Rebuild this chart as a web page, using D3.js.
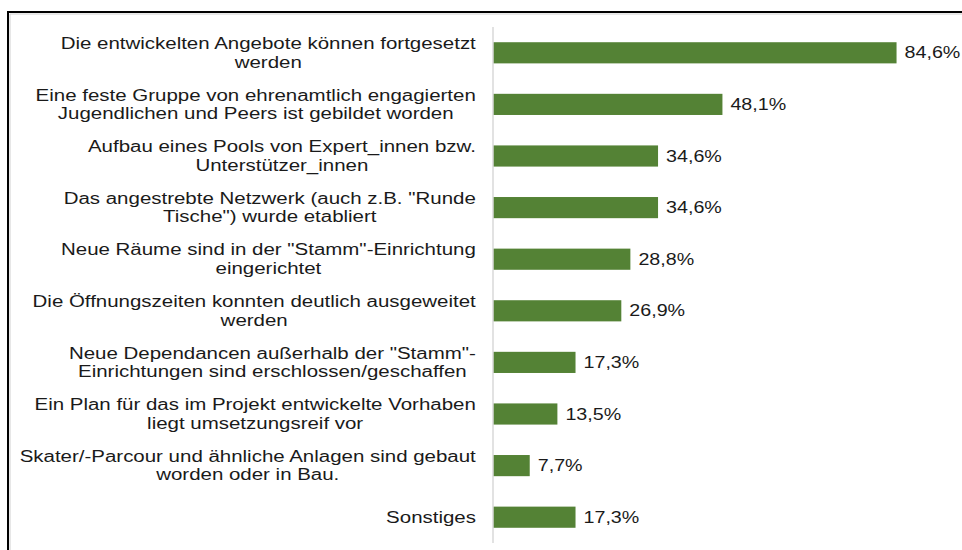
<!DOCTYPE html>
<html>
<head>
    <meta charset="utf-8">
    <title>Ergebnisse</title>
    <style>
        body { margin: 0; background: #fff; }
        svg { font-family: 'Liberation Sans', Arial, sans-serif; }
        .bar { fill: #548235; }
        .cat { fill: #1a1a1a; font-size: 16px; }
        .val { fill: #1a1a1a; font-size: 16px; }
    </style>
</head>
<body>
    <div id="chart"></div>
    <script src="https://d3js.org/d3.v7.min.js"></script>
    <script>
        const categories = [
            "Die entwickelten Angebote können fortgesetzt\nwerden",
            "Eine feste Gruppe von ehrenamtlich engagierten\nJugendlichen und Peers ist gebildet worden",
            "Aufbau eines Pools von Expert_innen bzw.\nUnterstützer_innen",
            "Das angestrebte Netzwerk (auch z.B. \"Runde\nTische\") wurde etabliert",
            "Neue Räume sind in der \"Stamm\"-Einrichtung\neingerichtet",
            "Die Öffnungszeiten konnten deutlich ausgeweitet\nwerden",
            "Neue Dependancen außerhalb der \"Stamm\"-\nEinrichtungen sind erschlossen/geschaffen",
            "Ein Plan für das im Projekt entwickelte Vorhaben\nliegt umsetzungsreif vor",
            "Skater/-Parcour und ähnliche Anlagen sind gebaut\nworden oder in Bau.",
            "Sonstiges"
        ];
        const values = [84.6, 48.1, 34.6, 34.6, 28.8, 26.9, 17.3, 13.5, 7.7, 17.3];

        const [width, height] = [962, 550];
        const axisX = 493;
        const stretch = 1.28;    // text in the picture is drawn wide
        const valStretch = 1.23;

        const svg = d3.select("#chart")
                      .append("svg")
                      .attr("width", width)
                      .attr("height", height);

        // frame (only top and left edges are visible in the picture)
        svg.append("path")
            .attr("d", `M8,${height} V12 H${width}`)
            .attr("fill", "none")
            .attr("stroke", "#000")
            .attr("stroke-width", 2);
        svg.append("path")
            .attr("d", `M10,${height} V14 H${width}`)
            .attr("fill", "none")
            .attr("stroke", "#d0d0d0")
            .attr("stroke-width", 1);

        const x = d3.scaleLinear()
                    .domain([0, 100])
                    .range([axisX, axisX + 477]);

        const y = d3.scaleBand()
                    .domain(d3.range(categories.length))
                    .range([27, 543])
                    .paddingInner(0.59)
                    .paddingOuter(0.295);

        svg.selectAll(".bar")
            .data(values)
            .enter().append("rect")
            .attr("class", "bar")
            .attr("x", x(0))
            .attr("y", (d, i) => y(i))
            .attr("width", d => x(d) - x(0))
            .attr("height", y.bandwidth());

        // value axis line
        svg.append("line")
            .attr("x1", x(0)).attr("x2", x(0))
            .attr("y1", y.range()[0]).attr("y2", y.range()[1])
            .attr("stroke", "#d9d9d9")
            .attr("stroke-width", 1.5);

        // category labels, lines centred, block right aligned
        const labelRight = 476;
        const lineH = 18.7;
        categories.forEach((c, i) => {
            const lines = c.split("\n");
            const g = svg.append("g");
            const texts = lines.map(t => g.append("text")
                .attr("class", "cat")
                .attr("text-anchor", "middle")
                .text(t));
            const maxW = d3.max(texts, t => t.node().getComputedTextLength()) * stretch;
            texts.forEach((t, k) => {
                const ty = y(i) + y.bandwidth() / 2 + 5.5 + (k - (lines.length - 1) / 2) * lineH;
                t.attr("transform", `translate(${labelRight - maxW / 2},${ty}) scale(${stretch},1)`);
            });
        });

        // value labels
        svg.selectAll(".val")
            .data(values)
            .enter().append("text")
            .attr("class", "val")
            .attr("transform", (d, i) => `translate(${x(d) + 8},${y(i) + y.bandwidth() / 2 + 5.5}) scale(${valStretch},1)`)
            .text(d => d.toFixed(1).replace(".", ",") + "%");
    </script>
</body>
</html>
